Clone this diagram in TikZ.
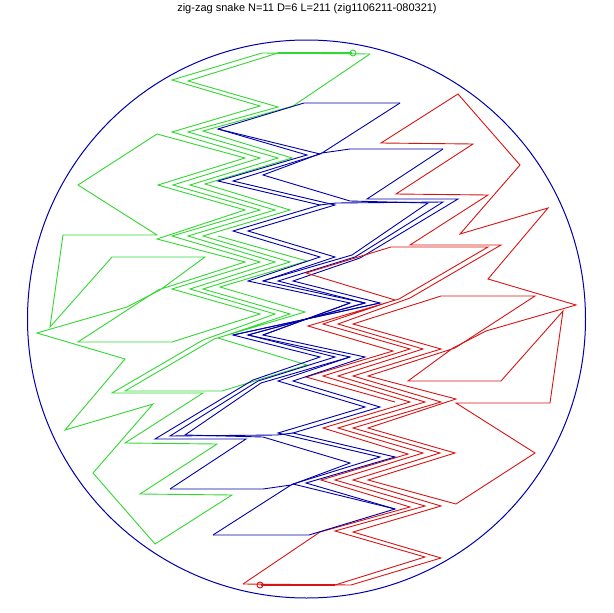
\documentclass[tikz,border=0pt]{standalone}
\usepackage{fontspec}
\setmainfont{Liberation Sans}
\begin{document}
\begin{tikzpicture}[x=1pt,y=-1pt,line join=miter]
\definecolor{gr}{RGB}{50,215,50}
\definecolor{bl}{RGB}{0,0,170}
\definecolor{rd}{RGB}{215,20,20}
\useasboundingbox (0,0) rectangle (614,613);
\node (title) at (307,9) {\fontsize{11}{13}\selectfont zig-zag snake N=11 D=6 L=211 (zig1106211-080321)};
\draw[bl, line width=1pt] (306.5,319) circle (279);
\tikzset{snake/.style={line width=0.9pt}}
\newcommand{\half}[3]{%
\begin{scope}[#1]
% green / red strands
\draw[snake,#2] (370,54) -- (262,53) -- (172,80) -- (260,106) -- (172,132) -- (260,158) -- (173,185) -- (260,210) -- (172,236) -- (260,262) -- (172,289) -- (260,314) -- (172,342) -- (78,342) -- (158,290) -- (245,262) -- (157,239) -- (245,210) -- (158,185) -- (245,158) -- (157,134) -- (78,185) -- (157,235) -- (63,235) -- (50,327) -- (112,257) -- (205,257) -- (160,290);
\draw[snake,#2] (278,53) -- (188,81) -- (278,107) -- (188,132) -- (278,158) -- (190,185) -- (275,210) -- (188,236) -- (275,262) -- (190,289) -- (275,314) -- (203,340) -- (112,393) -- (203,393) -- (125,443) -- (217,444) -- (140,494) -- (232,495) -- (155,544) -- (93,473) -- (153,404) -- (65,430) -- (125,359) -- (37,333) -- (127,307) -- (160,290);
\draw[snake,#2] (370,54) -- (293,106) -- (203,131) -- (292,158) -- (205,184) -- (290,210) -- (203,236) -- (290,262) -- (203,289) -- (290,314) -- (218,338) -- (307,365) -- (222,391) -- (125,391) -- (214,339) -- (305,312) -- (220,287) -- (307,261) -- (218,236);
\draw[line width=2.2pt,#2] (352,53) -- (278,53);
\draw[snake,#2] (353,53) circle (3);
% blue half
\draw[snake,#3] (400,103) -- (304,103) -- (218,129) -- (307,155) -- (218,181) -- (320,205) -- (233,231) -- (320,257) -- (248,281) -- (350,303) -- (263,335);
\draw[snake,#3] (443,149) -- (350,149) -- (322,153) -- (400,103);
\draw[snake,#3] (322,153) -- (263,175) -- (350,201) -- (428,203) -- (352,255) -- (263,281);
\draw[snake,#3] (218,129) -- (320,154) -- (233,181) -- (335,205) -- (248,231) -- (335,257) -- (263,281) -- (365,303) -- (248,335);
\draw[snake,#3] (443,149) -- (367,199) -- (458,199) -- (360,258) -- (293,281) -- (380,303) -- (233,335);
\draw[snake,#3] (320,205) -- (336,203) -- (443,202) -- (355,257) -- (278,281) -- (365,303);
\end{scope}}
\half{}{gr}{bl}
\half{rotate around={180:(306.5,319)}}{rd}{bl}
\end{tikzpicture}
\end{document}
